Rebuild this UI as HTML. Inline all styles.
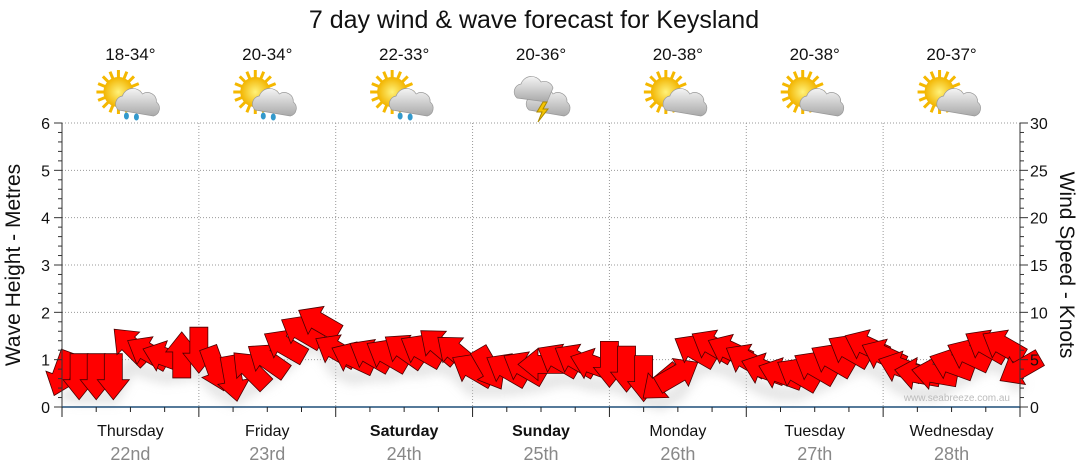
<!DOCTYPE html>
<html><head><meta charset="utf-8"><style>
body{margin:0;background:#fff;width:1080px;height:475px;overflow:hidden;font-family:"Liberation Sans",sans-serif}
svg{display:block}
</style></head><body>
<svg id="c" width="1080" height="475">
<defs>
<radialGradient id="sun" cx="50%" cy="50%" r="50%"><stop offset="0" stop-color="#fff27a"/><stop offset="1" stop-color="#f2b400"/></radialGradient>
<linearGradient id="cloud" x1="0" y1="0" x2="0" y2="1"><stop offset="0" stop-color="#f4f4f4"/><stop offset="1" stop-color="#a9a9a9"/></linearGradient>
<filter id="sh" x="-20%" y="-20%" width="140%" height="160%"><feGaussianBlur stdDeviation="5"/></filter>
</defs>
<text x="534" y="28" font-size="25" text-anchor="middle" fill="#111">7 day wind &amp; wave forecast for Keysland</text>
<g id="grid"></g><g id="marks"></g><g id="axes"></g>
</svg>
<script>
const days=["Thursday","Friday","Saturday","Sunday","Monday","Tuesday","Wednesday"];
const dates=["22nd","23rd","24th","25th","26th","27th","28th"];
const temps=["18-34°","20-34°","22-33°","20-36°","20-38°","20-38°","20-37°"];
const icons=["rain","rain","rain","storm","cloud","cloud","cloud"];
const boldDays=[false,false,true,true,false,false,false];
const waveTicks=[0,1,2,3,4,5,6];
const windTicks=[0,5,10,15,20,25,30];
const windSpeed=[3.5,3.2,3.2,3.2,6.5,5.8,5.3,5.5, 6,4,3,4,5,6.5,8,9, 6,5.2,5.5,5.5,6,6,6.5,5.8, 4,4,4,4.2,4.5,5,5,4.5, 4.5,4,3,2.5,3.5,6,6.5,6, 5,4,3.5,3.5,4.2,5,6,6.5, 5.5,4.2,3.5,3.5,4.5,5.5,6.5,6.5,4];
const windDir=[200,180,180,180,315,300,290,0, 180,160,170,315,305,300,300,300, 300,295,300,300,305,300,310,310, 300,150,300,300,270,300,300,290, 180,180,180,230,60,300,300,295, 300,290,290,300,300,300,300,295, 295,290,280,280,290,295,300,300,240];
const NS="http://www.w3.org/2000/svg";
const X0=62,X1=1020,Y0=407,Y6=123;
const yW=m=>Y0-(Y0-Y6)*m/6, yK=k=>Y0-(Y0-Y6)*k/30;
const xT=i=>X0+(X1-X0)*i/(windSpeed.length-1);
const dayW=(X1-X0)/days.length;
function el(t,a,p){const e=document.createElementNS(NS,t);for(const k in a)e.setAttribute(k,a[k]);p.appendChild(e);return e;}
const grid=document.getElementById('grid'),marks=document.getElementById('marks'),axes=document.getElementById('axes');
waveTicks.forEach(v=>{if(v>0){const l=el('line',{x1:X0,x2:X1,y1:yW(v),y2:yW(v),stroke:'#999','stroke-dasharray':'1,2'},grid);

}});
days.forEach((d,i)=>{if(i>0){const l=el('line',{x1:X0+i*dayW,x2:X0+i*dayW,y1:Y6,y2:Y0,stroke:'#999','stroke-dasharray':'1,2'},grid);

}});
el('line',{x1:X0,x2:X0,y1:Y6,y2:Y0,stroke:'#333'},axes);
el('line',{x1:X1,x2:X1,y1:Y6,y2:Y0,stroke:'#333'},axes);
el('line',{x1:X0,x2:X1,y1:Y0,y2:Y0,stroke:'#1f4e79','stroke-width':1.5},axes);
for(let m=0;m<=30;m++){const y=yW(m/5);el('line',{x1:X0-(m%5?4:8),x2:X0,y1:y,y2:y,stroke:'#333'},axes);el('line',{x1:X1,x2:X1+(m%5?4:8),y1:y,y2:y,stroke:'#333'},axes);}
waveTicks.forEach(v=>{const t=el('text',{x:X0-12,y:yW(v)+6,'font-size':16,'text-anchor':'end',fill:'#111'},axes);t.textContent=v;

});
windTicks.forEach(v=>{const t=el('text',{x:X1+10,y:yK(v)+6,'font-size':16,fill:'#111'},axes);t.textContent=v;

});
let t=el('text',{transform:`translate(20,265) rotate(-90)`,'font-size':21,'text-anchor':'middle',fill:'#111'},axes);t.textContent='Wave Height - Metres';


t=el('text',{transform:`translate(1060,265) rotate(90)`,'font-size':21,'text-anchor':'middle',fill:'#111'},axes);t.textContent='Wind Speed - Knots';


for(let j=0;j<=days.length*4;j++){const x=X0+j*dayW/4;el('line',{x1:x,x2:x,y1:Y0,y2:Y0+(j%4?5:10),stroke:'#222'},axes);}
t=el('text',{x:1010,y:401,'font-size':10,'text-anchor':'end',fill:'#bbb'},axes);t.textContent='www.seabreeze.com.au';


days.forEach((d,i)=>{const cx=X0+(i+0.5)*dayW;
let a=el('text',{x:cx,y:436,'font-size':16,'text-anchor':'middle',fill:'#111','font-weight':boldDays[i]?'bold':'normal'},axes);a.textContent=d;


a=el('text',{x:cx,y:460,'font-size':18,'text-anchor':'middle',fill:'#888'},axes);a.textContent=dates[i];


a=el('text',{x:cx,y:60,'font-size':17,'text-anchor':'middle',fill:'#111'},axes);a.textContent=temps[i];


const g=el('g',{transform:`translate(${cx-4},96)`},axes);


if(icons[i]!=='storm'){for(let r=0;r<16;r++){const an=r*Math.PI/8;el('line',{x1:-8,y1:-4,x2:-8+Math.cos(an)*22,y2:-4+Math.sin(an)*22,stroke:'#f5b800','stroke-width':3},g);}
el('circle',{cx:-8,cy:-4,r:15,fill:'url(#sun)'},g);}
el('path',{d:'M-8 14 a8 8 0 0 1 4-14 a11 11 0 0 1 20-2 a9 9 0 0 1 14 8 a8 8 0 0 1 -3 14 z',fill:'url(#cloud)',stroke:'#999','stroke-width':0.7},g);
if(icons[i]==='storm'){el('path',{d:'M-20 2 a8 8 0 0 1 4-14 a11 11 0 0 1 20-2 a9 9 0 0 1 12 6 l-6 14 z',fill:'url(#cloud)',stroke:'#999','stroke-width':0.7},g);el('path',{d:'M6 6 l-6 10 h5 l-4 10 l10 -13 h-5 l4 -7 z',fill:'#f5c400',stroke:'#a80'},g);}
if(icons[i]==='rain'){el('ellipse',{cx:0,cy:20,rx:2.5,ry:3.5,fill:'#39c'},g);el('ellipse',{cx:10,cy:21,rx:2.5,ry:3.5,fill:'#39c'},g);}
});
let sp='';windSpeed.forEach((w,i)=>{sp+=(i?'L':'M')+xT(i)+' '+(yK(w)+20);});
el('path',{d:sp,stroke:'#ccc','stroke-width':14,fill:'none',filter:'url(#sh)',opacity:0.5},marks);
windSpeed.forEach((w,i)=>{const x=xT(i),y=yK(w);
const p=el('polygon',{points:'-9,23 9,23 9,-3 16,-3 0,-23 -16,-3 -9,-3',fill:'#f00',stroke:'#4a0000','stroke-width':0.8,transform:`translate(${x},${y}) rotate(${windDir[i]})`},marks);

});
</script>
</body></html>
